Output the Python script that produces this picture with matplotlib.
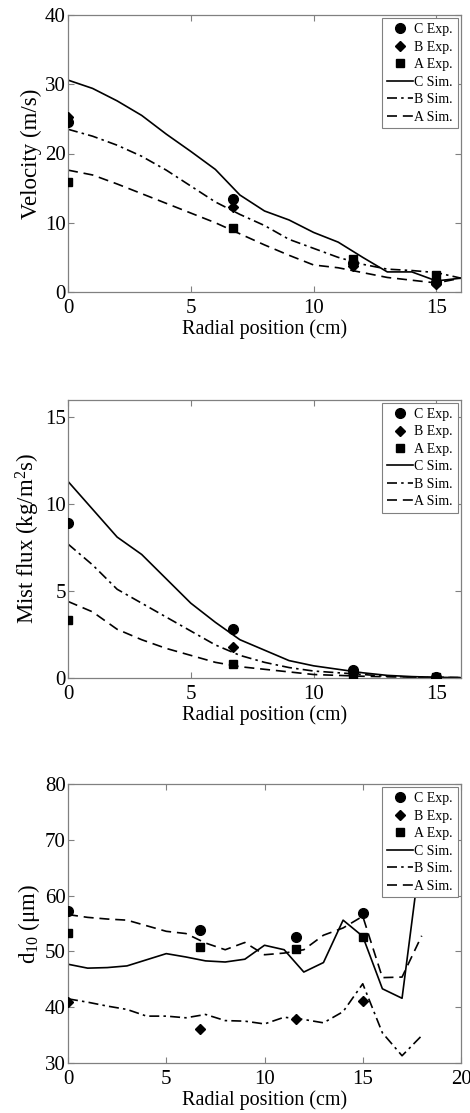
import numpy as np
import matplotlib
matplotlib.use("Agg")
import matplotlib.pyplot as plt

plt.rcParams['font.family'] = ['Liberation Serif', 'DejaVu Serif']
plt.rcParams['mathtext.fontset'] = 'custom'
plt.rcParams['mathtext.rm'] = 'Liberation Serif'
plt.rcParams['mathtext.it'] = 'Liberation Serif:italic'
plt.rcParams['mathtext.bf'] = 'Liberation Serif:bold'

# radial positions
x_exp = [0, 6.7, 11.6, 15]
x_sim = list(range(0, 17))
x_sim_d10 = list(range(0, 19))

# velocity (m/s)
vel_C_exp = [24.6, 13.5, 4.2, 1.5]
vel_B_exp = [25.2, 12.3, 3.8, 1.1]
vel_A_exp = [15.9, 9.2, 4.7, 2.5]
vel_C_sim = [30.6, 29.4, 27.6, 25.5, 22.8, 20.3, 17.7, 14.0, 11.7, 10.4, 8.6, 7.2, 5.0, 2.9, 2.9, 1.6, 2.0]
vel_B_sim = [23.5, 22.5, 21.2, 19.6, 17.6, 15.3, 13.0, 11.2, 9.6, 7.6, 6.3, 5.0, 4.0, 3.3, 3.1, 2.8, 2.0]
vel_A_sim = [17.6, 16.9, 15.6, 14.2, 12.8, 11.4, 10.0, 8.4, 6.8, 5.3, 3.9, 3.5, 2.8, 2.1, 1.7, 1.3, 2.0]

# mist flux (kg/m2s)
mist_C_exp = [8.9, 2.8, 0.46, 0.08]
mist_B_exp = [8.9, 1.76, 0.3, 0.05]
mist_A_exp = [3.33, 0.8, 0.15, 0.05]
mist_C_sim = [11.3, 9.7, 8.1, 7.1, 5.7, 4.3, 3.2, 2.2, 1.6, 1.0, 0.7, 0.5, 0.3, 0.15, 0.08, 0.04, 0.02]
mist_B_sim = [7.7, 6.5, 5.1, 4.3, 3.5, 2.7, 1.9, 1.3, 0.9, 0.6, 0.4, 0.3, 0.2, 0.1, 0.05, 0.03, 0.02]
mist_A_sim = [4.4, 3.8, 2.8, 2.2, 1.7, 1.3, 0.9, 0.65, 0.5, 0.35, 0.2, 0.15, 0.1, 0.07, 0.05, 0.03, 0.02]

# d10 (um)
d10_C_exp = [57.2, 53.9, 52.5, 56.9]
d10_B_exp = [40.9, 36.1, 37.8, 41.2]
d10_A_exp = [53.3, 50.8, 50.5, 52.5]
d10_C_sim = [47.7, 47.0, 47.1, 47.4, 48.5, 49.6, 49.0, 48.3, 48.1, 48.6, 51.1, 50.3, 46.3, 48.0, 55.6, 52.7, 43.3, 41.6, 69.0]
d10_B_sim = [41.5, 40.9, 40.2, 39.6, 38.4, 38.4, 38.1, 38.7, 37.6, 37.5, 37.0, 38.2, 37.8, 37.2, 39.2, 44.2, 35.4, 31.3, 34.9]
d10_A_sim = [56.6, 56.1, 55.8, 55.6, 54.6, 53.6, 53.2, 51.5, 50.3, 51.6, 49.4, 49.7, 50.3, 52.9, 54.2, 56.3, 45.3, 45.4, 52.8]

GRAY = '0.5'


def panel(ax, xs, exp, sim, xlim, ylim, yticks, xticks, ylabel):
    ax.plot(x_exp, exp[0], 'o', color='k', ms=7, label='C Exp.', zorder=5)
    ax.plot(x_exp, exp[1], 'D', color='k', ms=5.5, label='B Exp.', zorder=5)
    ax.plot(x_exp, exp[2], 's', color='k', ms=6, label='A Exp.', zorder=5)
    ax.plot(xs, sim[0], '-', color='k', lw=1.2, label='C Sim.')
    ax.plot(xs, sim[1], color='k', lw=1.2, dashes=(6, 2.5, 1.5, 2.5), label='B Sim.')
    ax.plot(xs, sim[2], color='k', lw=1.2, dashes=(6, 3.5), label='A Sim.')
    ax.set_xlim(xlim)
    ax.set_ylim(ylim)
    ax.set_xticks(xticks)
    ax.set_yticks(yticks)
    for s in ax.spines.values():
        s.set_color(GRAY)
        s.set_linewidth(0.9)
    ax.tick_params(direction='in', length=4, width=0.8, color=GRAY,
                   top=True, right=True, labelsize=15)
    ax.tick_params(axis='y', pad=1.5)
    ax.tick_params(axis='x', pad=5)
    ax.set_xlabel('Radial position (cm)', fontsize=14.5, labelpad=1)
    ax.set_ylabel(ylabel, fontsize=16.5, labelpad=2)
    leg = ax.legend(loc='upper right', fontsize=10, frameon=True, fancybox=False,
                    handlelength=1.9, handletextpad=0.05, labelspacing=0.32,
                    borderpad=0.35, borderaxespad=0.25, numpoints=1, markerfirst=True)
    leg.get_frame().set_edgecolor(GRAY)
    leg.get_frame().set_linewidth(0.8)
    leg.get_frame().set_alpha(1)


fig = plt.figure(figsize=(4.70, 11.13), dpi=100)
left, width = 68 / 470, 393 / 470
ax1 = fig.add_axes([left, 1 - 292 / 1113, width, 277 / 1113])
ax2 = fig.add_axes([left, 1 - 678 / 1113, width, 278.4 / 1113])
ax3 = fig.add_axes([left, 1 - 1063 / 1113, width, 279 / 1113])

panel(ax1, x_sim, [vel_C_exp, vel_B_exp, vel_A_exp], [vel_C_sim, vel_B_sim, vel_A_sim],
      (0, 16), (0, 40), [0, 10, 20, 30, 40], [0, 5, 10, 15], 'Velocity (m/s)')
panel(ax2, x_sim, [mist_C_exp, mist_B_exp, mist_A_exp], [mist_C_sim, mist_B_sim, mist_A_sim],
      (0, 16), (0, 16), [0, 5, 10, 15], [0, 5, 10, 15], 'Mist flux (kg/m$^2$s)')
panel(ax3, x_sim_d10, [d10_C_exp, d10_B_exp, d10_A_exp], [d10_C_sim, d10_B_sim, d10_A_sim],
      (0, 20), (30, 80), [30, 40, 50, 60, 70, 80], [0, 5, 10, 15, 20], 'd$_{10}$ (μm)')

fig.savefig('out.png', dpi=100)
